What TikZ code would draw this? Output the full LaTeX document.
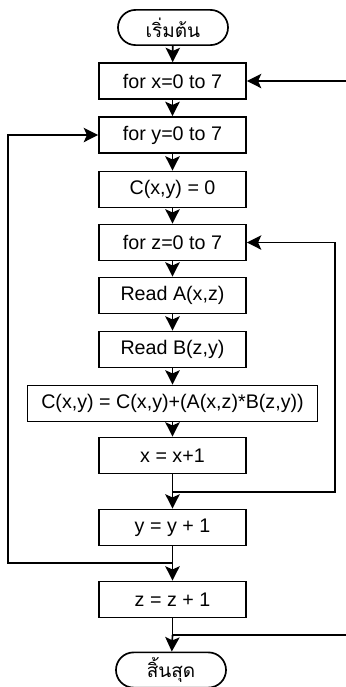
\documentclass[tikz,border=0pt]{standalone}
\usepackage{fontspec}
\setmainfont{Liberation Sans}
\newfontfamily\thaifont[Script=Thai]{Loma}
\usetikzlibrary{arrows.meta,positioning}

\begin{document}
\begin{tikzpicture}[
  x=0.025cm, y=-0.025cm,
  line width=1.2pt,
  procbox/.style={draw,line width=1.2pt,minimum width=3.675cm,minimum height=0.9cm,
    inner sep=0pt,font=\fontsize{14}{16}\selectfont},
  termbox/.style={draw,line width=1.2pt,rounded corners=0.44cm,minimum width=2.75cm,
    minimum height=0.88cm,inner sep=0pt,font=\thaifont\fontsize{13.5}{16}\selectfont},
  flow/.style={-{Stealth[length=3.6mm,width=3.6mm,inset=0.8mm]},line width=1.2pt}
]
  \useasboundingbox (0,0) rectangle (345,687);
  % Nodes
  \node[termbox] (start) at (173,27.5) {เริ่มต้น};
  \node[procbox] (fx) at (172.5,81) {for x=0 to 7};
  \node[procbox] (fy) at (172.5,135) {for y=0 to 7};
  \node[procbox] (c0) at (172.5,189.5) {C(x,y) = 0};
  \node[procbox] (fz) at (172.5,242.5) {for z=0 to 7};
  \node[procbox] (ra) at (172.5,295.5) {Read A(x,z)};
  \node[procbox] (rb) at (172.5,349.5) {Read B(z,y)};
  \node[procbox,minimum width=7.25cm] (acc) at (172.5,403.5) {C(x,y) = C(x,y)+(A(x,z)*B(z,y))};
  \node[procbox] (xi) at (172.5,455.5) {x = x+1};
  \node[procbox] (yi) at (172.5,527.5) {y = y + 1};
  \node[procbox] (zi) at (172.5,599.5) {z = z + 1};
  \node[termbox] (stop) at (171,670) {สิ้นสุด};
  % Junctions
  \coordinate (j1) at (172.5,492);
  \coordinate (j2) at (172.5,563);
  \coordinate (j3) at (172.5,635);
  % Edges
  \draw[flow] (start) -- (fx);
  \draw[flow] (fx) -- (fy);
  \draw[flow] (fy) -- (c0);
  \draw[flow] (c0) -- (fz);
  \draw[flow] (fz) -- (ra);
  \draw[flow] (ra) -- (rb);
  \draw[flow] (rb) -- (acc);
  \draw[flow] (acc) -- (xi);
  \draw (xi) -- (j1);
  \draw[flow] (j1) -- (yi);
  \draw (yi) -- (j2);
  \draw[flow] (j2) -- (zi);
  \draw (zi) -- (j3);
  \draw[flow] (j3) -- (stop);
  % Loops back
  \draw[flow] (j1) -- (335,492) |- (fz.east);
  \draw[flow] (j2) -- (8,563) |- (fy.west);
  \draw[flow] (j3) -- (352,635) |- (fx.east);
\end{tikzpicture}
\end{document}
